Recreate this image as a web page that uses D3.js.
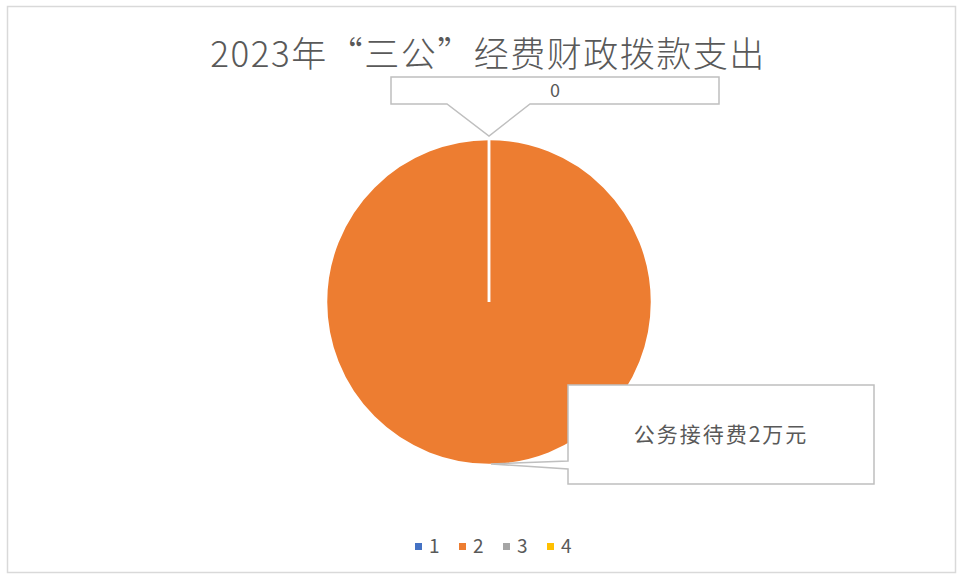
<!DOCTYPE html>
<html>
<head>
<meta charset="utf-8">
<script src="https://cdn.jsdelivr.net/npm/d3@7"></script>
<style>
  body { margin: 0; background: #fff; }
  text { font-family: "Noto Sans CJK SC", "Noto Sans", sans-serif; }
</style>
</head>
<body>
<div id="chart"></div>
<script>
const categories = ["1", "2", "3", "4"];
const values = [0, 2, 0, 0];
const labels = ["0", "公务接待费2万元", "0", "0"];
const colors = ["#4472C4", "#ED7D31", "#A5A5A5", "#FFC000"];

const width = 958, height = 581;
const cx = 489, cy = 302, r = 163;

const svg = d3.select('#chart')
    .append('svg')
    .attr('width', width)
    .attr('height', height);

// chart frame
svg.append('rect')
    .attr('x', 7.5).attr('y', 6.5)
    .attr('width', 948).attr('height', 566)
    .attr('fill', '#fff')
    .attr('stroke', '#d9d9d9')
    .attr('stroke-width', 1.5);

svg.append('text')
    .attr('x', 488).attr('y', 67)
    .attr('text-anchor', 'middle')
    .attr('font-size', 35)
    .attr('font-weight', 300)
    .attr('letter-spacing', 1.5)
    .attr('fill', '#595959')
    .text('2023年“三公”经费财政拨款支出');

const data = categories.map((c, i) => ({ cat: c, value: values[i], label: labels[i], color: colors[i] }));

const pie = d3.pie().value(d => d.value).sort(null);
const arcs = pie(data);
const arc = d3.arc().innerRadius(0).outerRadius(r);

const g = svg.append('g').attr('transform', `translate(${cx}, ${cy})`);

g.selectAll('path')
    .data(arcs)
    .join('path')
    .attr('d', arc)
    .attr('fill', d => d.data.color)
    .attr('stroke', '#fff')
    .attr('stroke-width', 2.5);

// point just outside the pie at an angle
function edge(a, rr) {
    return [cx + Math.sin(a) * rr, cy - Math.cos(a) * rr];
}

// callout for the zero slice
const zero = arcs[0];
const t0 = edge((zero.startAngle + zero.endAngle) / 2, r + 3);
const b0 = { x: 391, y: 77, w: 328, h: 27 };
svg.append('path')
    .attr('d', `M${b0.x},${b0.y} H${b0.x + b0.w} V${b0.y + b0.h} H530 L${t0[0]},${t0[1]} L447,${b0.y + b0.h} H${b0.x} Z`)
    .attr('fill', '#fff')
    .attr('stroke', '#bfbfbf')
    .attr('stroke-width', 1.5);
svg.append('text')
    .attr('x', b0.x + b0.w / 2).attr('y', b0.y + b0.h / 2 + 6)
    .attr('text-anchor', 'middle')
    .attr('font-size', 18)
    .attr('fill', '#595959')
    .text(zero.data.label);

// callout for the main slice
const main = arcs[1];
const t1 = edge((main.startAngle + main.endAngle) / 2, r);
const b1 = { x: 568, y: 385, w: 306, h: 99 };
svg.append('path')
    .attr('d', `M${b1.x},${b1.y} H${b1.x + b1.w} V${b1.y + b1.h} H${b1.x} V469 L${t1[0] + 2},${t1[1] - 1} L${b1.x},461 Z`)
    .attr('fill', '#fff')
    .attr('stroke', '#bfbfbf')
    .attr('stroke-width', 1.5);
svg.append('text')
    .attr('x', b1.x + b1.w / 2).attr('y', b1.y + b1.h / 2 + 7)
    .attr('text-anchor', 'middle')
    .attr('font-size', 21)
    .attr('letter-spacing', 2)
    .attr('fill', '#595959')
    .text(main.data.label);

// legend
const legendX = d3.scalePoint().domain(categories).range([418, 550]);
const lg = svg.append('g').selectAll('g')
    .data(data)
    .join('g')
    .attr('transform', d => `translate(${legendX(d.cat)}, 546)`);
lg.append('rect')
    .attr('x', -3).attr('y', -3)
    .attr('width', 7).attr('height', 7)
    .attr('fill', d => d.color);
lg.append('text')
    .attr('x', 11).attr('y', 7)
    .attr('font-size', 19)
    .attr('fill', '#595959')
    .text(d => d.cat);
</script>
</body>
</html>
